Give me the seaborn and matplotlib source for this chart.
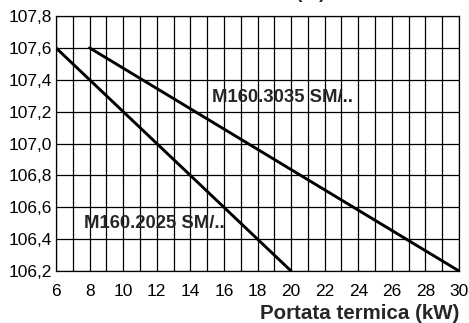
import matplotlib
matplotlib.use('Agg')
import matplotlib.pyplot as plt
import seaborn as sns
import pandas as pd

# data
x_2025 = [6, 20]
y_2025 = [107.6, 106.2]
x_3035 = [8, 30]
y_3035 = [107.6, 106.2]
label_2025 = 'M160.2025 SM/..'
label_3035 = 'M160.3035 SM/..'
x_ticks = list(range(6, 31, 2))
y_ticks = [106.2, 106.4, 106.6, 106.8, 107.0, 107.2, 107.4, 107.6, 107.8]

sns.set_style('white')
plt.rcParams['font.family'] = ['Liberation Sans', 'DejaVu Sans']

df = pd.concat([
    pd.DataFrame({'kw': x_2025, 'val': y_2025, 'model': label_2025}),
    pd.DataFrame({'kw': x_3035, 'val': y_3035, 'model': label_3035}),
])

fig = plt.figure(figsize=(4.69, 3.23), dpi=100)
ax = fig.add_axes([56 / 469, 52 / 323, 403 / 469, 255 / 323])

sns.lineplot(data=df, x='kw', y='val', units='model', estimator=None,
             color='black', linewidth=2.1, ax=ax, legend=False, zorder=3)

ax.set_xlim(6, 30)
ax.set_ylim(106.2, 107.8)
ax.set_xticks(x_ticks)
ax.set_xticks(range(6, 31), minor=True)
ax.set_yticks(y_ticks)
ax.set_xticklabels([str(v) for v in x_ticks], fontsize=12.5)
ax.set_yticklabels([f'{v:.1f}'.replace('.', ',') for v in y_ticks], fontsize=12.5)
ax.tick_params(axis='both', which='both', length=0, colors='black')
ax.tick_params(axis='x', pad=9)
ax.tick_params(axis='y', pad=3)

ax.grid(True, which='both', axis='x', color='black', linewidth=0.9)
ax.grid(True, which='major', axis='y', color='black', linewidth=0.9)
for s in ax.spines.values():
    s.set_color('black')
    s.set_linewidth(0.9)

ax.set_xlabel('Portata termica (kW)', fontsize=14.8, fontweight='bold',
              loc='right', labelpad=4)
ax.set_ylabel('')

ax.text(15.3, 107.29, label_3035, fontsize=13.3, fontweight='bold',
        va='center', ha='left', zorder=4)
ax.text(7.67, 106.50, label_2025, fontsize=13.3, fontweight='bold',
        va='center', ha='left', zorder=4)

# title, mostly outside the visible area
fig.text(325 / 469, 1 + 1.5 / 323, 'Rendimento (%)', fontsize=13.5,
         fontweight='bold', ha='right', va='baseline')

fig.savefig('out.png', dpi=100)
